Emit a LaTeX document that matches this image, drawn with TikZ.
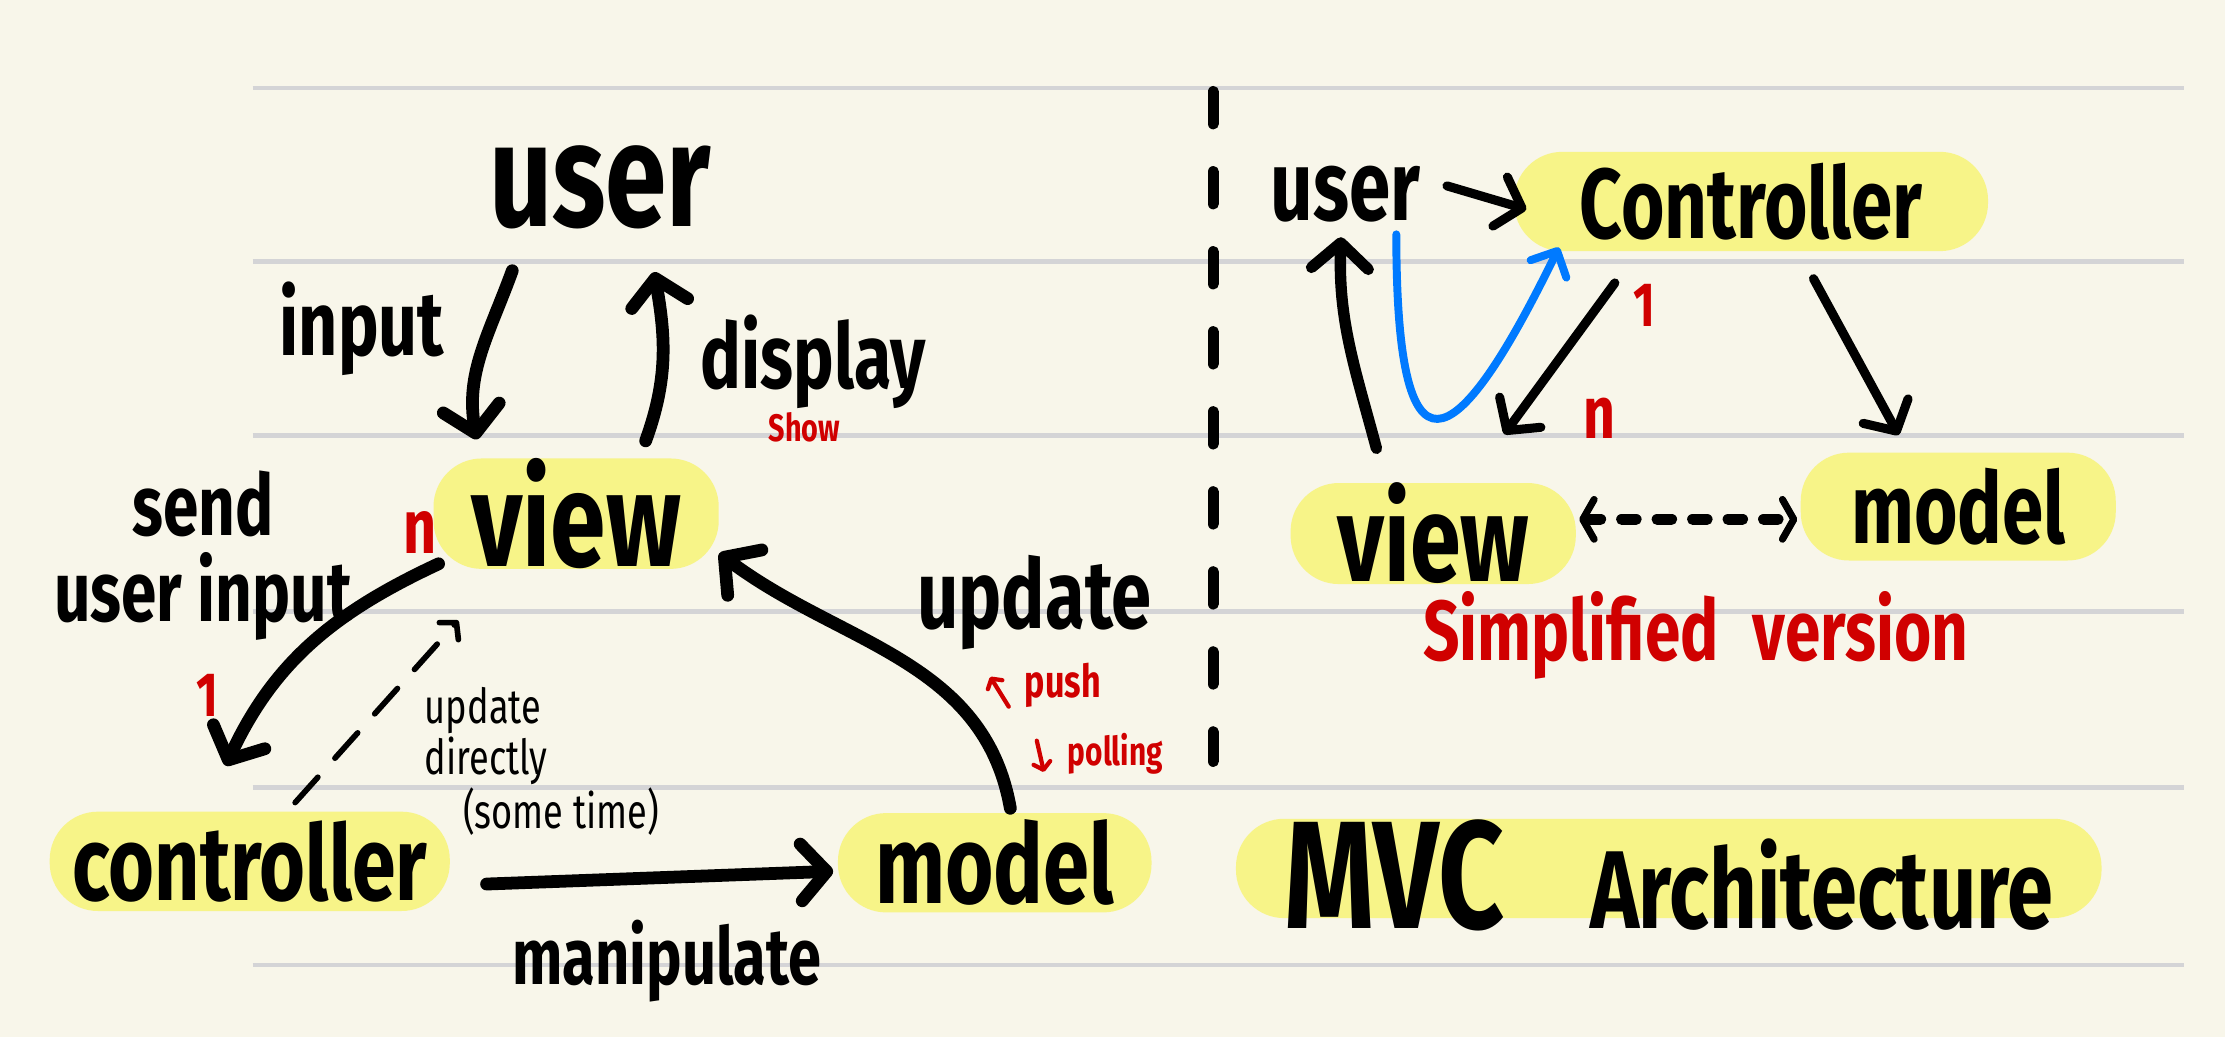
\documentclass[tikz,border=0pt]{standalone}
\usepackage{fontspec}
\newfontfamily\hand{Fira Sans}[FakeStretch=0.75]
\usetikzlibrary{arrows.meta, positioning}
\definecolor{paper}{RGB}{248,246,234}
\definecolor{ruling}{RGB}{212,212,214}
\definecolor{marker}{RGB}{247,244,136}
\definecolor{inkred}{RGB}{208,0,0}
\definecolor{inkblue}{RGB}{0,122,255}

\begin{document}
\begin{tikzpicture}[
  x=0.5pt, y=0.5pt,
  word/.style={inner sep=0pt, font=\hand\bfseries\fontsize{#1}{#1}\selectfont},
  hl/.style={word=#1, fill=marker, rounded corners=17pt},
  redword/.style={word=#1, text=inkred},
  arr/.style={line width=4.5pt, line cap=round, line join=round,
    -{Straight Barb[round, length=9pt, width=20pt]}},
  thinarr/.style={arr, line width=3.2pt, -{Straight Barb[round, length=8pt, width=18pt]}},
  redarr/.style={inkred, line width=1.5pt, line cap=round,
    -{Straight Barb[round, length=2.5pt, width=6pt]}}
]
\useasboundingbox (0,0) rectangle (1568,-731);
\fill[paper] (0,0) rectangle (1568,-731);
\foreach \yy in {62,184,307,431,555,680}
  \draw[ruling, line width=1.7pt] (178,-\yy) -- (1539,-\yy);
\draw[line width=4pt, line cap=round, dash pattern=on 11.3pt off 16.9pt] (855,-64.6) -- (855,-536.5);

% full version
\node[word=52] (userL) at (423,-132) {user};
\node[hl=47, minimum width=100.5pt, minimum height=38pt] (viewL) at (406,-362) {view};
\node[hl=37, minimum width=141pt, minimum height=35pt] (ctrlL) at (176,-607) {controller};
\node[hl=39, minimum width=110.5pt, minimum height=35pt] (modelL) at (701,-608) {model};

\node[word=32] (input) at (255,-232) {input};
\node[word=32] (display) at (573,-255) {display};
\node[redword=13.5, below=1pt of display, xshift=-3pt] (show) {Show};
\node[word=30] (uinput) at (143,-420) {user input};
\node[word=30, above=5pt of uinput] (send) {send};
\node[redword=27] (nL) at (296,-375) {n};
\node[redword=22] (oneL) at (146,-490) {1};
\node[word=34] (update) at (729,-425) {update};
\node[redword=16] (push) at (749,-483) {push};
\node[redword=14] (polling) at (786,-531) {polling};
\node[inner sep=0pt, anchor=north west, align=left, font=\hand\fontsize{17}{16}\selectfont] (direct) at (299,-484)
  {update\\directly\\\hspace*{13.5pt}(some time)};
\node[word=28] (manip) at (470,-677) {manipulate};

\draw[arr] ([xshift=-31pt,yshift=-14.5pt]userL.south) to[out=250,in=100] ([xshift=-35pt,yshift=6.5pt]viewL.north);
\draw[arr] ([xshift=24.5pt,yshift=6pt]viewL.north) to[out=70,in=280] ([xshift=19pt,yshift=-15pt]userL.south);
\draw[arr] ([xshift=2pt,yshift=2pt]viewL.south west) to[out=205,in=65] ([xshift=-8.5pt,yshift=16pt]ctrlL.north);
\draw[line width=2pt, line cap=round, dash pattern=on 12pt off 9pt, -{Straight Barb[round, length=4pt, width=9pt]}]
  ([xshift=16pt,yshift=3pt]ctrlL.north) -- ([xshift=-41.5pt,yshift=-18pt]viewL.south);
\draw[arr] ([xshift=12.75pt,yshift=-8pt]ctrlL.east) -- ([xshift=-1.5pt,yshift=-3pt]modelL.west);
\draw[arr] ([xshift=5.5pt,yshift=1.5pt]modelL.north) to[out=100,in=-37] ([yshift=-14pt]viewL.east);
\draw[redarr] ([xshift=-5.5pt,yshift=-7.5pt]push.west) -- ([xshift=-12pt,yshift=3pt]push.west);
\draw[redarr] ([xshift=-10.75pt,yshift=4.5pt]polling.west) -- ([xshift=-8.25pt,yshift=-6.5pt]polling.west);

% simplified version
\node[word=35] (userR) at (948,-137) {user};
\node[hl=35, minimum width=167pt, minimum height=35pt] (ctrlR) at (1234,-142) {Controller};
\node[hl=43, minimum width=100.5pt, minimum height=35pt] (viewR) at (1010,-376) {view};
\node[hl=35, minimum width=111pt, minimum height=38pt] (modelR) at (1380,-357) {model};
\node[redword=22] (oneR) at (1159,-215) {1};
\node[redword=26] (nR) at (1127,-295) {n};
\node[redword=30] (simple) at (1195,-448) {Simplified\hspace{12pt}version};
\node[hl=39, minimum width=305pt, minimum height=35pt] (title) at (1176,-612)
  {\raisebox{-21pt}[0pt][0pt]{{\fontsize{54}{54}\selectfont MVC}\hspace{30pt}Architecture}};

\draw[thinarr] ([xshift=9.3pt,yshift=3pt]userR.east) -- ([xshift=4.5pt,yshift=-2.75pt]ctrlR.west);
\draw[arr, line width=4pt] ([xshift=-20pt,yshift=12pt]viewR.north) to[out=105,in=268] ([xshift=-1.5pt,yshift=-5pt]userR.south);
\draw[inkblue, line width=2.8pt, line cap=round, -{Straight Barb[round, length=7pt, width=14pt]}]
  ([xshift=18pt,yshift=-4pt]userR.south) to[out=270,in=244,out distance=90pt,in distance=85pt] ([xshift=16pt,yshift=1.5pt]ctrlR.south west);
\draw[thinarr] ([xshift=-48pt,yshift=-11pt]ctrlR.south) -- ([xshift=25pt,yshift=17pt]viewR.north);
\draw[thinarr] ([xshift=22pt,yshift=-9.5pt]ctrlR.south) -- ([xshift=-21pt,yshift=6pt]modelR.north);
\draw[line width=4pt, line cap=round, dash pattern=on 5pt off 7.5pt,
  {Straight Barb[round, length=4pt, width=14pt, line width=2.5pt]}-{Straight Barb[round, length=4pt, width=14pt, line width=2.5pt]}]
  ([xshift=1pt,yshift=5pt]viewR.east) -- ([xshift=-1pt,yshift=-4.5pt]modelR.west);
\end{tikzpicture}
\end{document}
